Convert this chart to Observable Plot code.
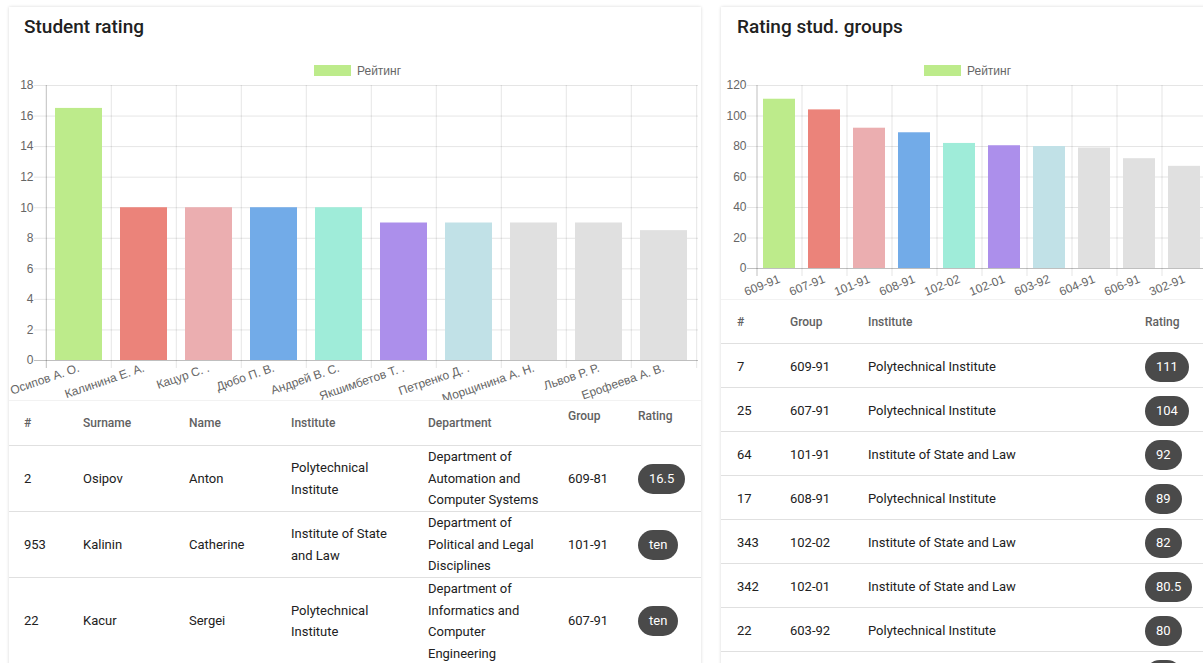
<!DOCTYPE html>
<html><head><meta charset="utf-8">
<script src="https://cdn.jsdelivr.net/npm/d3@7"></script>
<script src="https://cdn.jsdelivr.net/npm/@observablehq/plot@0.6"></script>
<style>
html,body{margin:0;padding:0;background:#fff;width:1203px;height:663px;overflow:hidden;font-family:Roboto,sans-serif;}
.card{position:absolute;top:7px;height:720px;background:#fff;box-shadow:0 0 3px rgba(0,0,0,0.16);}
h2{position:absolute;margin:0;font-size:19px;font-weight:500;color:#212121;line-height:24px;top:15px;white-space:nowrap}
.legend{position:absolute;top:64px;height:13px;font:12px "Liberation Sans",Arial,sans-serif;color:#666;display:flex;align-items:center;white-space:nowrap}
.legend i{display:inline-block;width:37px;height:11px;background:#bdeb8b;margin-right:6px;}
.chart{position:absolute;top:80px;line-height:0}
.chart svg{overflow:visible;display:block;max-width:none !important;}
table{position:absolute;border-collapse:collapse;table-layout:fixed;font-size:13px;color:#212121;background:#fff;border-top:1px solid #f2f2f2}
th{font-weight:500;font-size:12px;color:#616161;text-align:left;padding:0 0 0 15px;border-bottom:1px solid #e0e0e0;}
td{padding:0 6px 0 15px;border-bottom:1px solid #e0e0e0;vertical-align:middle;line-height:21.5px;white-space:pre-line;}
#t2 th,#t2 td{padding-left:16px}
#t2 td{padding-top:3px}
.badge{display:inline-block;background:#4a4a4a;color:#fff;border-radius:15px;padding:0 11px;height:30px;line-height:30px;font-size:13px;white-space:nowrap}
th.raised{vertical-align:top;padding-top:7px;line-height:16px}
</style></head>
<body>
<div class="card" style="left:9px;width:692px"></div>
<div class="card" style="left:721px;width:520px"></div>
<h2 style="left:24px">Student rating</h2>
<h2 style="left:737px">Rating stud. groups</h2>
<div class="legend" style="left:314px"><i></i>Рейтинг</div>
<div class="legend" style="left:924px"><i></i>Рейтинг</div>
<div id="c1" class="chart" style="left:9px;width:692px"></div>
<div id="c2" class="chart" style="left:721px;width:490px"></div>
<table id="t1" style="left:9px;top:400px;width:692px"></table>
<table id="t2" style="left:721px;top:299px;width:490px"></table>
<script>
// ---- chart data ----
const studentNames = ["Осипов А. О.", "Калинина Е. А.", "Кацур С. .", "Дюбо П. В.", "Андрей В. С.", "Якшимбетов Т. .", "Петренко Д. .", "Морщинина А. Н.", "Львов Р. Р.", "Ерофеева А. В."];
const studentRatings = [16.5, 10, 10, 10, 10, 9, 9, 9, 9, 8.5];
const groupNames = ["609-91", "607-91", "101-91", "608-91", "102-02", "102-01", "603-92", "604-91", "606-91", "302-91"];
const groupRatings = [111, 104, 92, 89, 82, 80.5, 80, 79, 72, 67];
const barColors = ["#bdeb8b", "#eb837a", "#ebaeb0", "#72abe8", "#9fecd9", "#ac8feb", "#c1e1e7", "#e0e0e0", "#e0e0e0", "#e0e0e0"];
const studentTicks = [0, 2, 4, 6, 8, 10, 12, 14, 16, 18];
const groupTicks = [0, 20, 40, 60, 80, 100, 120];

// ---- table data ----
const studentCols = ["#", "Surname", "Name", "Institute", "Department", "Group", "Rating"];
const studentIds = ["2", "953", "22"];
const studentSurnames = ["Osipov", "Kalinin", "Kacur"];
const studentFirst = ["Anton", "Catherine", "Sergei"];
const studentInstitutes = ["Polytechnical\nInstitute", "Institute of State\nand Law", "Polytechnical\nInstitute"];
const studentDepts = ["Department of\nAutomation and\nComputer Systems", "Department of\nPolitical and Legal\nDisciplines", "Department of\nInformatics and\nComputer\nEngineering"];
const studentGroups = ["609-81", "101-91", "607-91"];
const studentBadges = ["16.5", "ten", "ten"];

const groupCols = ["#", "Group", "Institute", "Rating"];
const groupIds = ["7", "25", "64", "17", "343", "342", "22", ""];
const groupTableNames = ["609-91", "607-91", "101-91", "608-91", "102-02", "102-01", "603-92", ""];
const groupInstitutes = ["Polytechnical Institute", "Polytechnical Institute", "Institute of State and Law", "Polytechnical Institute", "Institute of State and Law", "Institute of State and Law", "Polytechnical Institute", ""];
const groupBadges = ["111", "104", "92", "89", "82", "80.5", "80", "79"];

function barChart({names, values, ticks, width, height, mL, mR, mT, mB, rotate, pad}) {
  const data = names.map((n, i) => ({name: n, value: values[i], color: barColors[i]}));
  const step = (width - mL - mR) / names.length;
  const grid = {stroke: "#000", strokeOpacity: 0.1};
  return Plot.plot({
    width, height, marginLeft: mL, marginRight: mR, marginTop: mT, marginBottom: mB,
    style: {fontFamily: '"Liberation Sans", Arial, sans-serif', fontSize: "12px", color: "#666", background: "transparent", overflow: "visible", maxWidth: "none"},
    x: {domain: names, paddingInner: 0.28, paddingOuter: 0.14, label: null},
    y: {domain: [ticks[0], ticks[ticks.length - 1]], label: null},
    marks: [
      Plot.ruleY(ticks.slice(1), {y: d => d, ...grid, insetLeft: -10}),
      Plot.ruleX(names.slice(1), {x: d => d, dx: -step / 2, ...grid, insetBottom: -8}),
      Plot.ruleX(names.slice(-1), {x: d => d, dx: step / 2, ...grid, insetBottom: -8}),
      Plot.barY(data, {x: "name", y: "value", fill: "color"}),
      Plot.ruleX(names.slice(0, 1), {x: d => d, dx: -step / 2, stroke: "#000", strokeOpacity: 0.25, insetBottom: -8}),
      Plot.ruleY([0], {stroke: "#000", strokeOpacity: 0.25, insetLeft: -10}),
      Plot.axisY({ticks, tickSize: 0, tickPadding: 11, fill: "#666", tickFormat: d => d}),
      Plot.axisX({tickSize: 0, tickPadding: pad, tickRotate: rotate, fill: "#666"})
    ]
  });
}

document.getElementById("c1").append(barChart({names: studentNames, values: studentRatings, ticks: studentTicks, width: 692, height: 320, mL: 35, mR: 3, mT: 5, mB: 40, rotate: -19, pad: 7}));
document.getElementById("c2").append(barChart({names: groupNames, values: groupRatings, ticks: groupTicks, width: 490, height: 218, mL: 36, mR: 4, mT: 5, mB: 30, rotate: -22, pad: 10}));

// tables
function buildTable(id, cols, widths, rows, raised, rowHeights) {
  const t = d3.select(id);
  const cg = t.append("colgroup");
  widths.forEach(w => cg.append("col").style("width", w + "px"));
  const hr = t.append("thead").append("tr").style("height", rowHeights[0] + "px");
  cols.forEach((c, i) => hr.append("th").attr("class", raised.includes(i) ? "raised" : null).text(c));
  const tb = t.append("tbody");
  rows.forEach((r, ri) => {
    const tr = tb.append("tr").style("height", rowHeights[1] + "px");
    r.forEach((v, i) => {
      const td = tr.append("td");
      if (i === r.length - 1) td.append("span").attr("class", "badge").text(v);
      else td.text(v);
    });
  });
}
const sRows = studentIds.map((d, i) => [d, studentSurnames[i], studentFirst[i], studentInstitutes[i], studentDepts[i], studentGroups[i], studentBadges[i]]);
buildTable("#t1", studentCols, [59, 106, 102, 137, 140, 70, 78], sRows, [5, 6], [45, 66]);
const gRows = groupIds.map((d, i) => [d, groupTableNames[i], groupInstitutes[i], groupBadges[i]]);
buildTable("#t2", groupCols, [53, 78, 277, 82], gRows, [], [44, 44]);
</script>
</body></html>
